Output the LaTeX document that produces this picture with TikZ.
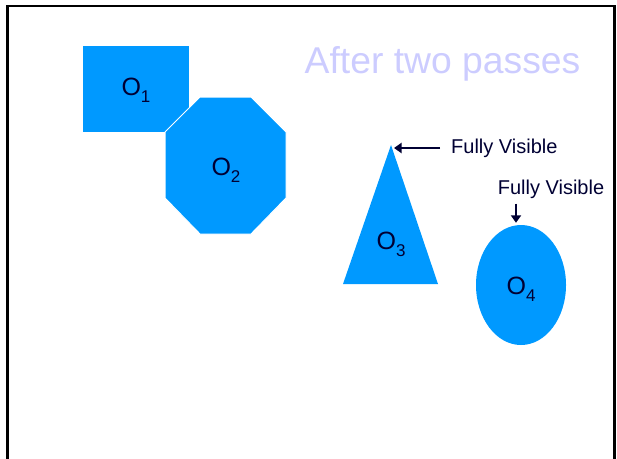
\documentclass[tikz,border=0pt]{standalone}
\usepackage{fontspec}
\setmainfont{Liberation Sans}
\usetikzlibrary{arrows.meta,shapes.geometric}
\definecolor{objblue}{RGB}{0,153,255}
\definecolor{navy}{RGB}{0,0,51}
\definecolor{lav}{RGB}{204,204,255}
\newcommand{\objlabel}[1]{O\raisebox{-0.28em}{\fontsize{17}{17}\selectfont #1}}
\begin{document}
\begin{tikzpicture}[x=1pt,y=-1pt,
  obj/.style={fill=objblue,draw=none},
  lbl/.style={text=navy,font=\fontsize{25}{25}\selectfont,inner sep=0pt},
  note/.style={text=navy,font=\fontsize{20}{20}\selectfont,inner sep=0pt},
  pointer/.style={draw=navy,line width=2.4pt,-{Triangle[length=7.5pt,width=10pt]}}]
\useasboundingbox (0,0) rectangle (617,458);
\clip (0,0) rectangle (617,458);
\draw[line width=2.5pt] (7.5,470) -- (7.5,6) -- (614.5,6) -- (614.5,470);
% title
\node[text=lav,font=\fontsize{37.3}{37.3}\selectfont,inner sep=0pt] (title) at (442.5,64) {After two passes};
% O1
\node[obj,rectangle,minimum width=106pt,minimum height=86pt,inner sep=0pt,anchor=north west] (o1) at (83,46) {};
\node[lbl] (o1l) at (136,90) {\objlabel{1}};
% O2
\path[fill=objblue,draw=white,line width=1pt] (200,97) -- (251,97) -- (286,132) -- (286,198) -- (251,234) -- (200,234) -- (165,198) -- (165,132) -- cycle;
\node[lbl] (o2l) at (226,170) {\objlabel{2}};
% O3
\coordinate (o3top) at (391,145);
\coordinate (o3bl) at (343,284);
\coordinate (o3br) at (438,284);
\fill[objblue] (o3top) -- (o3br) -- (o3bl) -- cycle;
\node[lbl] (o3l) at (391,244) {\objlabel{3}};
% O4
\node[obj,ellipse,minimum width=90pt,minimum height=120pt,inner sep=0pt] (o4) at (521,285) {};
\node[lbl] (o4l) at (521,289) {\objlabel{4}};
% notes
\node[note,anchor=west] (n1) at (451,148) {Fully Visible};
\draw[pointer,shorten >=3pt] ([xshift=-11pt]n1.west) -- (n1.west -| o3top);
\node[note] (n2) at (551,189) {Fully Visible};
\draw[pointer,shorten >=2pt] ([xshift=-5pt,yshift=-5pt]o4.north |- n2.south) -- ([xshift=-5pt]o4.north);
\end{tikzpicture}
\end{document}
